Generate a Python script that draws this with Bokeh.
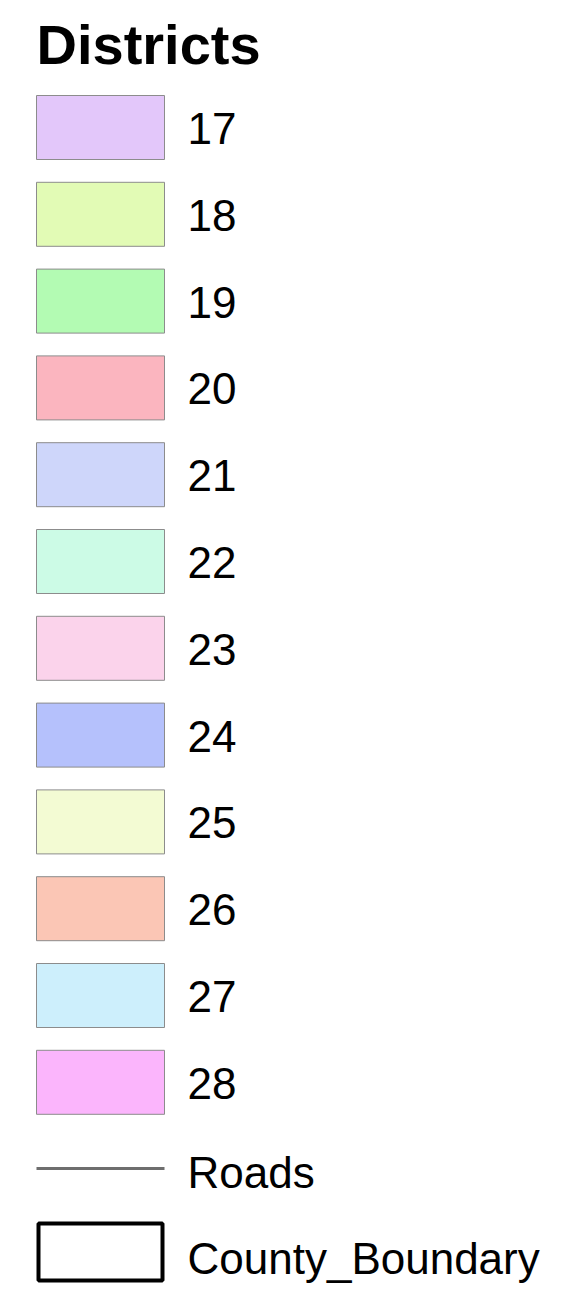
from bokeh.plotting import figure
from bokeh.models import Range1d, ColumnDataSource
from bokeh.core.properties import value
from bokeh.embed import file_html
from bokeh.resources import INLINE

title = "Districts"
districts = ["17", "18", "19", "20", "21", "22", "23", "24", "25", "26", "27", "28"]
district_colors = ["#E3C7FA", "#E2FBB5", "#B3FBB3", "#FBB5BF", "#CED6FA", "#CCFBE6",
                   "#FBD3EB", "#B5C1FC", "#F3FBD3", "#FBC6B5", "#CDEFFC", "#FBB5FC"]
extra_labels = ["Roads", "County_Boundary"]

W, H = 546, 1283
p = figure(width=W, height=H, output_backend="svg", toolbar_location=None,
           x_range=Range1d(0, W), y_range=Range1d(H, 0), min_border=0,
           outline_line_color=None)
p.axis.visible = False
p.grid.visible = False

FONT = value("Liberation Sans")
FS = "44px"
step = 86.8
top0 = 95
sw_l, sw_r, sw_h = 36, 164, 64
lab_x = 187

tops = [top0 + i * step for i in range(len(districts))]
src = ColumnDataSource(dict(left=[sw_l] * len(districts), right=[sw_r] * len(districts),
                            top=tops, bottom=[t + sw_h for t in tops],
                            mid=[t + sw_h / 2 + 1 for t in tops],
                            x=[lab_x] * len(districts), label=districts, color=district_colors))
p.quad(left="left", right="right", top="top", bottom="bottom", source=src,
       fill_color="color", line_color="#8c8c8c", line_width=1)
p.text(x="x", y="mid", text="label", source=src, text_font=FONT, text_font_size=FS,
       text_baseline="middle", text_align="left", text_color="#000000")

# title
p.text(x=[36], y=[44], text=[title], text_font=FONT, text_font_size="56px",
       text_font_style="bold", text_baseline="middle", text_color="#000000")

# roads
road_y = 1168
p.line(x=[sw_l, sw_r], y=[road_y, road_y], line_color="#6e6e6e", line_width=3)
p.text(x=[lab_x], y=[road_y + 4], text=[extra_labels[0]], text_font=FONT, text_font_size=FS,
       text_baseline="middle", text_color="#000000")

# county boundary
p.quad(left=[sw_l + 2], right=[sw_r - 2], top=[1223], bottom=[1280],
       fill_color=None, line_color="#000000", line_width=4)
p.text(x=[lab_x], y=[1258], text=[extra_labels[1]], text_font=FONT,
       text_font_size=FS, text_baseline="middle", text_color="#000000")

open("out.html", "w").write(file_html(p, INLINE))
